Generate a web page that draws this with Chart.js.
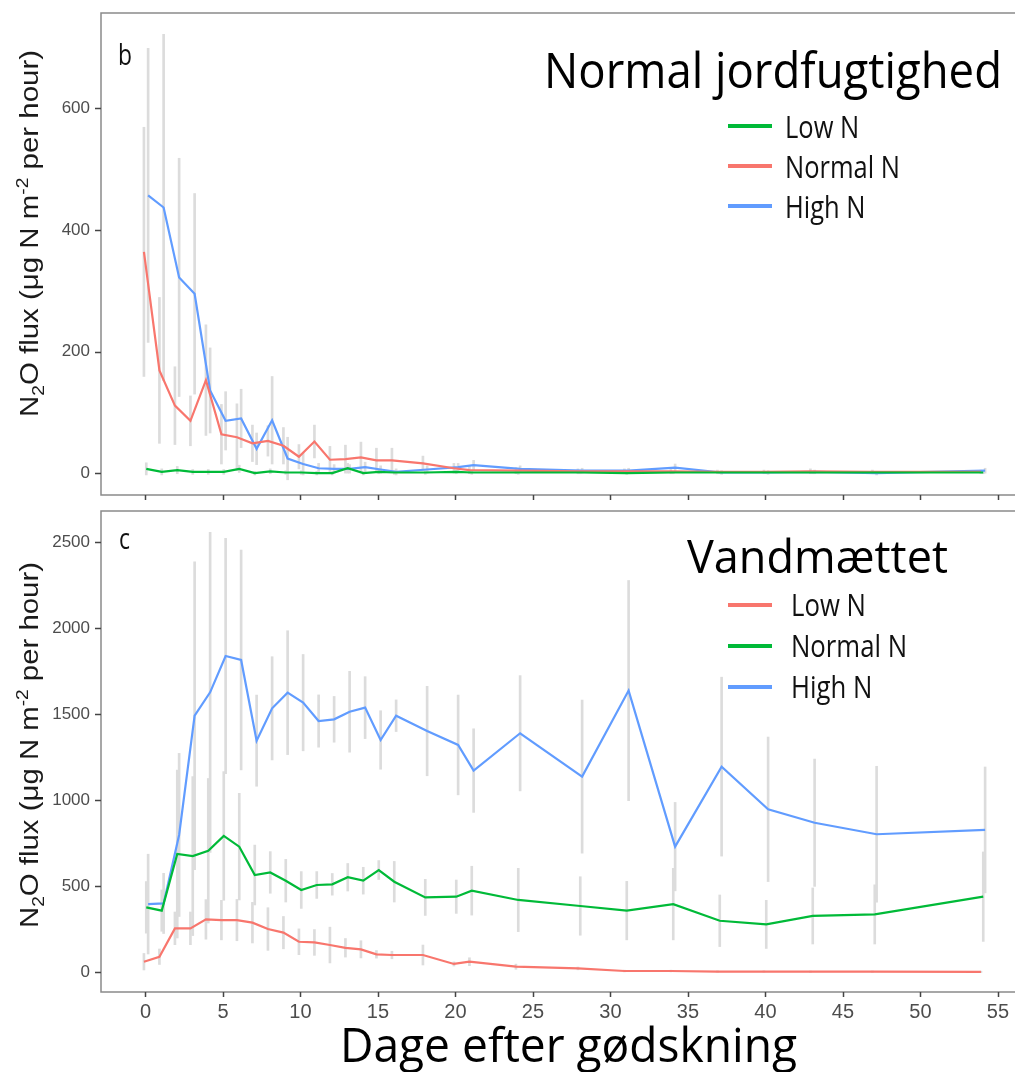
<!DOCTYPE html>
<html><head><meta charset="utf-8">
<script src="https://cdn.jsdelivr.net/npm/chart.js@4.4.1/dist/chart.umd.min.js"></script>
<style>
html,body{margin:0;padding:0;background:#fff;}
#wrap{position:relative;width:1015px;height:1072px;overflow:hidden;background:#fff;}
canvas{position:absolute;left:0;}
#top{top:0;}
#bot{top:505px;}
</style></head><body>
<div id="wrap"><canvas id="top" width="1030" height="505"></canvas><canvas id="bot" width="1030" height="567"></canvas></div>
<script>
// ---------- data ----------
const DAYS = [0,1,2,3,4,5,6,7,8,9,10,11,12,13,14,15,16,18,20,21,24,28,31,34,37,40,43,47,54];
const SERIES_LABELS = ['Low N','Normal N','High N'];
const X_TICKS = [0,5,10,15,20,25,30,35,40,45,50,55];
const Y_TICKS_TOP = [0,200,400,600];
const Y_TICKS_BOT = [0,500,1000,1500,2000,2500];

// Panel b: Normal jordfugtighed
const TOP_LOW      = [7,2,5,2,2,2,7,0,3,1,1,0,0,8,0,2,1, 1,2,1,1,1,0,1,1,1,1,1,1];
const TOP_NORMAL   = [364,169,111,86,153,64,59,49,53,45,27,52,22,23,26,21,21, 16,8,5,4,3,3,3,2,2,3,2,2];
const TOP_HIGH     = [457,437,322,295,136,86,90,40,87,24,15,8,7,7,10,6,2, 6,10,13,7,4,4,9,1,1,2,0,4];
const TOP_LOW_ERR    = [10,5,6,4,4,4,6,3,4,3,3,3,3,8,3,3,3, 3,3,3,3,2,2,2,2,2,2,2,2];
const TOP_NORMAL_ERR = [205,120,64,41,91,49,55,30,25,30,20,27,22,23,25,20,20, 12,8,6,5,4,4,4,3,3,4,3,3];
const TOP_HIGH_ERR   = [242,285,196,165,70,48,48,26,72,35,18,8,7,7,8,6,5, 6,6,8,5,4,4,6,3,3,3,3,4];

// Panel c: Vandmættet
const BOT_LOW      = [60,89,254,254,306,302,302,287,250,229,176,172,157,141,132,103,99, 99,47,60,31,21,6,6,3,3,2,2,1];
const BOT_NORMAL   = [376,357,686,674,705,791,729,564,579,531,477,506,510,551,531,593,525, 434,438,473,419,384,357,395,298,277,326,335,438];
const BOT_HIGH     = [395,399,797,1490,1626,1837,1814,1345,1533,1624,1566,1459,1469,1513,1537,1349,1490, 1401,1320,1171,1388,1136,1636,729,1194,946,868,801,826];
const BOT_LOW_ERR    = [48,45,95,95,115,115,120,118,124,94,75,75,104,54,50,22,22, 58,12,23,15,8,5,5,4,4,4,4,4];
const BOT_NORMAL_ERR = [150,120,488,462,420,374,310,174,121,124,107,78,63,80,78,55,118, 105,97,142,184,170,170,208,150,140,163,172,260];
const BOT_HIGH_ERR   = [290,175,474,895,930,684,639,265,300,360,280,152,133,235,180,170,92, 260,290,243,335,445,640,257,520,420,370,395,366];

// ---------- styles ----------
const COL = {red:'#F8766D', green:'#00BA38', blue:'#619CFF'};
const DODGE = {red:-0.1, green:0.05, blue:0.17};
const ERR_COLOR = '#dcdcdc';
const NARROW = '"Liberation Sans Narrow", "Liberation Sans", Arial, sans-serif';
const Y_TICK_FONT = {family:NARROW, size:17};
const X_TICK_FONT = {family:NARROW, size:20};
const SANS = '"Open Sans", "Noto Sans", sans-serif';
const ARIAL = '"Liberation Sans", Arial, sans-serif';

function buildDatasets(series, errs, colors){
  const ds = [];
  series.forEach((vals,i)=>{
    const dx = DODGE[colors[i]];
    ds.push({type:'bar', data: DAYS.map((d,j)=>({x:d+dx, y:[vals[j]-errs[i][j], vals[j]+errs[i][j]]})),
      backgroundColor: ERR_COLOR, borderWidth:0, barThickness:2, grouped:false, order:10});
  });
  series.forEach((vals,i)=>{
    const dx = DODGE[colors[i]];
    ds.push({type:'line', label: SERIES_LABELS[i], data: DAYS.map((d,j)=>({x:d+dx, y:vals[j]})),
      borderColor: COL[colors[i]], backgroundColor: COL[colors[i]], borderWidth:2.2, pointRadius:0, tension:0, fill:false, order:1});
  });
  return ds;
}

function drawRun(ctx, o){
  ctx.save();
  ctx.fillStyle = o.color || '#000';
  ctx.textBaseline = 'alphabetic';
  ctx.textAlign = 'left';
  const font = k => `${o.weight||'normal'} ${o.size*(k||1)}px ${o.family}`;
  let total = 0;
  for (const p of o.parts){ ctx.font = font(p.k); total += ctx.measureText(p.t).width; }
  const sx = o.width ? o.width/total : (o.sx || 1);
  ctx.translate(o.x, o.y);
  if (o.rot) ctx.rotate(o.rot);
  ctx.scale(sx, 1);
  let cx = 0;
  for (const p of o.parts){ ctx.font = font(p.k); ctx.fillText(p.t, cx, (p.dy||0)*o.size); cx += ctx.measureText(p.t).width; }
  ctx.restore();
  return sx;
}
function scaleFor(ctx, text, size, family, width){
  ctx.save(); ctx.font = `${size}px ${family}`; const w = ctx.measureText(text).width; ctx.restore(); return width/w;
}

const Y_TITLE_PARTS = [{t:'N'},{t:'2',k:0.65,dy:0.22},{t:'O flux (\u03bcg N m'},{t:'-2',k:0.65,dy:-0.42},{t:' per hour)'}];

function makePanel(canvasId, cfg){
  const cv = document.getElementById(canvasId);
  const H = cv.height;
  const deco = {
    id:'deco',
    afterDatasetsDraw(chart){
      const ctx = chart.ctx, a = chart.chartArea;
      ctx.save();
      ctx.strokeStyle = '#8a8a8a'; ctx.lineWidth = 1.5;
      ctx.strokeRect(a.left, a.top, a.right - a.left, a.bottom - a.top);
      ctx.strokeStyle = '#444'; ctx.lineWidth = 1.5;
      ctx.beginPath();
      X_TICKS.forEach(v => { const x = Math.round(chart.scales.x.getPixelForValue(v)) + 0.5; ctx.moveTo(x, a.bottom); ctx.lineTo(x, a.bottom + 5); });
      cfg.yticks.forEach(v => { const y = Math.round(chart.scales.y.getPixelForValue(v)) + 0.5; ctx.moveTo(a.left - 6, y); ctx.lineTo(a.left, y); });
      ctx.stroke();
      ctx.restore();
    },
    afterDraw(chart){
      const ctx = chart.ctx;
      drawRun(ctx, {x:cfg.letter.x, y:cfg.letter.y, width:cfg.letter.w, size:30, family:SANS, parts:[{t:cfg.letter.t}], color:'#111'});
      drawRun(ctx, {x:cfg.title.x, y:cfg.title.y, width:cfg.title.w, size:cfg.title.size, family:SANS, parts:[{t:cfg.title.t}], color:'#000'});
      const L = cfg.legend;
      const sx = scaleFor(ctx, 'Normal N', 31, SANS, L.normalW);
      chart.data.datasets.filter(d=>d.type==='line').forEach((d,i)=>{
        const y = L.y0 + i*L.step;
        ctx.save(); ctx.strokeStyle = d.borderColor; ctx.lineWidth = 4;
        ctx.beginPath(); ctx.moveTo(L.x0, y); ctx.lineTo(L.x1, y); ctx.stroke(); ctx.restore();
        drawRun(ctx, {x:L.tx, y:y + L.base, sx:sx, size:31, family:SANS, parts:[{t:d.label}], color:'#111'});
      });
      drawRun(ctx, {x:38, y:cfg.ytitle.y, rot:-Math.PI/2, width:cfg.ytitle.len, size:25, family:ARIAL, parts:Y_TITLE_PARTS, color:'#1a1a1a'});
      if (cfg.xtitle){
        drawRun(ctx, {x:cfg.xtitle.x, y:cfg.xtitle.y, width:cfg.xtitle.w, size:48, family:SANS, parts:[{t:cfg.xtitle.t}], color:'#000'});
      }
    }
  };
  return new Chart(cv, {
    type:'line',
    data:{datasets: cfg.datasets},
    options:{
      responsive:false, animation:false, devicePixelRatio:1,
      layout:{padding:{top:cfg.padTop, right:8, left:0, bottom:0}},
      plugins:{legend:{display:false}, tooltip:{enabled:false}},
      scales:{
        x:{type:'linear', min:-2.87, max:56.55, offset:false,
           afterBuildTicks: s => { s.ticks = X_TICKS.map(v=>({value:v})); },
           afterFit: s => { s.height = H - cfg.bottom; s.paddingLeft = 0; s.paddingRight = 0; },
           grid:{display:false, drawTicks:false, tickLength:0},
           border:{display:false},
           ticks:{display:cfg.xLabels, font:X_TICK_FONT, color:'#4d4d4d', padding:8, maxRotation:0, autoSkip:false,
                  callback: v => String(v)}},
        y:{type:'linear', min:cfg.ymin, max:cfg.ymax,
           afterBuildTicks: s => { s.ticks = cfg.yticks.map(v=>({value:v})); },
           afterFit: s => { s.width = 101; s.paddingTop = 0; s.paddingBottom = 0; },
           grid:{display:false, drawTicks:false, tickLength:0},
           border:{display:false},
           ticks:{font:Y_TICK_FONT, color:'#4d4d4d', padding:11, autoSkip:false, callback: v => String(v)}}
      }
    },
    plugins:[deco]
  });
}

makePanel('top', {
  datasets: buildDatasets([TOP_LOW, TOP_NORMAL, TOP_HIGH], [TOP_LOW_ERR, TOP_NORMAL_ERR, TOP_HIGH_ERR], ['green','red','blue']),
  padTop:13, bottom:495, ymin:-36, ymax:757, yticks:Y_TICKS_TOP, xLabels:false,
  letter:{t:'b', x:118, y:65, w:14},
  title:{t:'Normal jordfugtighed', x:544, y:88, w:458, size:49},
  legend:{x0:728, x1:772, y0:126, step:40, tx:785, base:11.5, normalW:115},
  ytitle:{y:417, len:367}
});

makePanel('bot', {
  datasets: buildDatasets([BOT_LOW, BOT_NORMAL, BOT_HIGH], [BOT_LOW_ERR, BOT_NORMAL_ERR, BOT_HIGH_ERR], ['red','green','blue']),
  padTop:6, bottom:487, ymin:-116, ymax:2680, yticks:Y_TICKS_BOT, xLabels:true,
  letter:{t:'c', x:119, y:44, w:11},
  title:{t:'Vandm\u00e6ttet', x:687, y:68, w:261, size:46},
  legend:{x0:728, x1:772, y0:100, step:41, tx:791, base:11, normalW:116},
  ytitle:{y:423, len:366},
  xtitle:{t:'Dage efter g\u00f8dskning', x:340, y:557, w:457}
});
</script>
</body></html>
